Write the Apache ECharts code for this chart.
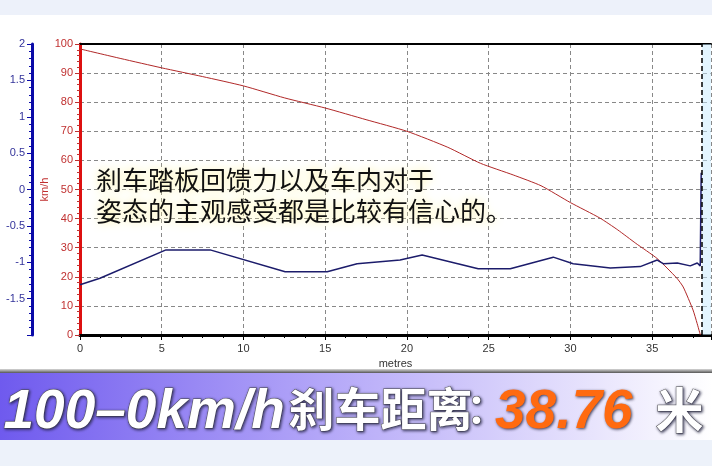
<!DOCTYPE html>
<html>
<head>
<meta charset="utf-8">
<script src="https://cdn.jsdelivr.net/npm/echarts@6/dist/echarts.min.js"></script>
<style>
html,body{margin:0;padding:0;background:#fff;}
#c{width:712px;height:466px;}
</style>
</head>
<body>
<div id="c"></div>
<script>
// distance in metres
var speedDist = [0, 2.5, 5, 7.5, 10, 12.5, 15, 17.5, 20, 22.5, 24.5, 26.5, 28.2, 30, 31.8, 32.9, 34, 35.3, 36.5, 36.9, 37.5, 37.75, 37.9, 37.95];
// speed km/h
var speedVals = [98.3, 95, 91.8, 88.8, 85.6, 81.5, 78, 74, 70, 64.5, 59, 55, 51.3, 45.5, 40.2, 36.1, 31.5, 26.3, 19.6, 16.5, 8.6, 4, 1, 0];
// acceleration distance (metres)
var accDist = [0, 1.22, 5.26, 7.96, 12.55, 15.12, 16.95, 19.58, 20.93, 24.36, 26.32, 28.95, 30.17, 32.44, 34.27, 35.31, 35.68, 36.54, 37.33, 37.76, 37.94, 38.0];
// acceleration g
var accVals = [-1.31, -1.22, -0.83, -0.83, -1.13, -1.13, -1.02, -0.97, -0.90, -1.09, -1.09, -0.93, -1.02, -1.08, -1.06, -0.97, -1.02, -1.01, -1.05, -1.01, -1.05, 0.23];
var stopMarker = 38.05;
var xMax = 38.6;
var annotation = "刹车踏板回馈力以及车内对于\n姿态的主观感受都是比较有信心的。";
var bannerA = "100–0km/h";
var bannerB = "刹车距离";
var bannerC = "：";
var bannerD = "38.76";
var bannerE = "米";

var speedData = speedDist.map(function(d,i){return [d, speedVals[i]];});
var accData = accDist.map(function(d,i){return [d, accVals[i]];});

var chart = echarts.init(document.getElementById('c'), null, {renderer:'canvas'});
var F = '"Liberation Sans", Arial, sans-serif';
var CJK = '"Noto Sans CJK SC", sans-serif';
var shadow = {textShadowColor:'rgba(30,30,60,0.85)', textShadowBlur:3, textShadowOffsetX:1, textShadowOffsetY:1};
function st(o){ for (var k in shadow) o[k]=shadow[k]; return o; }
chart.setOption({
  animation:false,
  backgroundColor:'#ffffff',
  grid:{left:80, right:1, top:44, bottom:131},
  xAxis:[{
    type:'value', min:0, max:xMax, interval:5,
    name:'metres', nameLocation:'middle', nameGap:22,
    nameTextStyle:{color:'#333', fontSize:11, fontFamily:F},
    axisLine:{show:true, onZero:false, lineStyle:{color:'#000', width:3}},
    axisTick:{show:true, length:5, lineStyle:{color:'#000'}},
    minorTick:{show:true, splitNumber:4, length:3, lineStyle:{color:'#000'}},
    axisLabel:{color:'#333', fontSize:11, fontFamily:F, showMaxLabel:false, margin:8},
    splitLine:{show:true, lineStyle:{color:'#888', type:[4,3], width:1}}
  },{
    type:'value', min:0, max:xMax, position:'top',
    axisLine:{show:true, onZero:false, lineStyle:{color:'#000', width:2}},
    axisTick:{show:false}, axisLabel:{show:false}, splitLine:{show:false}
  }],
  yAxis:[{
    type:'value', min:0, max:100, interval:10, position:'left',
    name:'km/h', nameLocation:'middle', nameGap:30, nameRotate:90, nameMoveOverlap:false,
    nameTextStyle:{color:'#c03030', fontSize:11, fontFamily:F},
    axisLine:{show:true, onZero:false, lineStyle:{color:'#dd1010', width:3}},
    axisTick:{show:true, length:5, lineStyle:{color:'#c03030'}},
    minorTick:{show:true, splitNumber:5, length:3, lineStyle:{color:'#c03030'}},
    axisLabel:{color:'#c03030', fontSize:11, fontFamily:F, margin:7},
    splitLine:{show:true, lineStyle:{color:'#888', type:[4,3], width:1}}
  },{
    type:'value', min:-2, max:2, interval:0.5, position:'left', offset:48,
    axisLine:{show:true, onZero:false, lineStyle:{color:'#0a0aa8', width:3}},
    axisTick:{show:true, length:5, lineStyle:{color:'#0a0aa8'}},
    minorTick:{show:true, splitNumber:5, length:3, lineStyle:{color:'#0a0aa8'}},
    axisLabel:{color:'#33339a', fontSize:11, fontFamily:F, showMinLabel:false, margin:7},
    splitLine:{show:false}
  }],
  series:[{
    type:'line', xAxisIndex:0, yAxisIndex:0, data:speedData,
    showSymbol:false, symbol:'none', smooth:0.2,
    lineStyle:{color:'#b02828', width:1},
    markLine:{symbol:'none', silent:true, label:{show:false},
      lineStyle:{color:'#000', type:[5,3], width:1.5},
      data:[{xAxis:stopMarker}]},
    markArea:{silent:true, itemStyle:{color:'rgba(200,235,255,0.5)'},
      data:[[{xAxis:stopMarker},{xAxis:xMax}]]}
  },{
    type:'line', xAxisIndex:0, yAxisIndex:1, data:accData,
    showSymbol:false, symbol:'none',
    lineStyle:{color:'#1c1c6b', width:1.5}
  }],
  graphic:[
    {type:'rect', left:0, top:0, silent:true, z:-1, shape:{width:712, height:15}, style:{fill:'#edf1fa'}},
    {type:'text', left:96, top:165, z:100, style:{
      text:annotation, fontSize:26, lineHeight:31, fontFamily:CJK, fill:'#111',
      textShadowColor:'#fff3a0', textShadowBlur:10
    }},
    {type:'rect', left:0, top:369, silent:true, z:100, shape:{width:712, height:4},
      style:{fill:new echarts.graphic.LinearGradient(0,0,0,1,[{offset:0,color:'#d8d8d8'},{offset:1,color:'#555'}])}},
    {type:'rect', left:0, top:373, silent:true, z:100, shape:{width:712, height:67},
      style:{fill:new echarts.graphic.LinearGradient(0,0,1,0,[{offset:0,color:'#6f5aee'},{offset:0.45,color:'#b3a6f8'},{offset:1,color:'#ffffff'}])}},
    {type:'rect', left:0, top:440, silent:true, z:100, shape:{width:712, height:26}, style:{fill:'#edf2fa'}},
    {type:'text', left:3, top:385, z:101, style:st({text:bannerA, fontSize:55, fontWeight:'bold', fontStyle:'italic', fontFamily:F, fill:'#fff', stroke:'#555', lineWidth:1})},
    {type:'text', left:288, top:385, z:101, style:st({text:bannerB, fontSize:46, fontWeight:'bold', fontFamily:CJK, fill:'#fff', stroke:'#555', lineWidth:1})},
    {type:'text', left:466, top:387, z:101, style:st({text:bannerC, fontSize:40, fontWeight:'bold', fontFamily:CJK, fill:'#fff', stroke:'#555', lineWidth:1})},
    {type:'text', left:495, top:385, z:101, style:st({text:bannerD, fontSize:55, fontWeight:'bold', fontStyle:'italic', fontFamily:F, fill:'#ff6a10'})},
    {type:'text', left:655, top:385, z:101, style:st({text:bannerE, fontSize:48, fontWeight:'bold', fontFamily:CJK, fill:'#fff', stroke:'#555', lineWidth:1})}
  ]
});
</script>
</body>
</html>
